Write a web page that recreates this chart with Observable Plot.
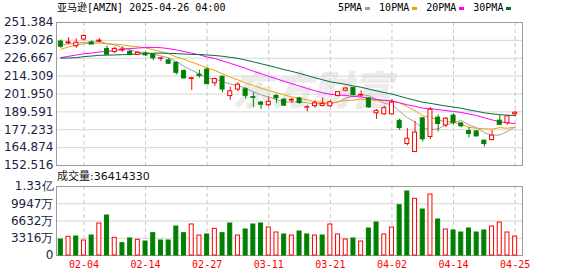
<!DOCTYPE html>
<html><head><meta charset="utf-8">
<script src="https://cdn.jsdelivr.net/npm/d3@7"></script>
<script src="https://cdn.jsdelivr.net/npm/@observablehq/plot@0.6"></script>
<style>
body{margin:0;background:#fff;}
#root{position:relative;width:578px;height:276px;overflow:hidden;background:#fff;}
.abs{position:absolute;white-space:nowrap;}
.mono{font-family:"DejaVu Sans Mono","Noto Sans CJK SC",monospace;font-size:10px;line-height:14px;color:#000;}
svg{position:absolute;left:0;}
</style></head><body><div id="root"></div>
<script>
const titleText = "亚马逊[AMZN] 2025-04-26 04:00";
const volLabel = "成交量:36414330";
const watermark = "东方财富";
const dates = ["01-30","01-31","02-03","02-04","02-05","02-06","02-07","02-10","02-11","02-12","02-13","02-14","02-18","02-19","02-20","02-21","02-24","02-25","02-26","02-27","02-28","03-03","03-04","03-05","03-06","03-07","03-10","03-11","03-12","03-13","03-14","03-17","03-18","03-19","03-20","03-21","03-24","03-25","03-26","03-27","03-28","03-31","04-01","04-02","04-03","04-04","04-07","04-08","04-09","04-10","04-11","04-14","04-15","04-16","04-17","04-21","04-22","04-23","04-24","04-25"];
const open  = [238.2,237.0,235.0,239.6,237.6,238.2,233.0,231.0,232.0,231.2,229.0,229.8,229.2,226.2,225.2,223.5,217.8,212.3,215.3,218.8,209.4,213.8,200.5,205.0,205.2,199.8,196.0,194.2,200.6,198.0,197.4,198.9,192.5,193.6,193.6,193.5,200.6,204.2,206.2,200.9,198.9,188.6,187.9,187.9,183.4,167.4,161.9,185.1,172.2,185.6,180.2,187.0,181.6,176.3,176.1,169.7,170.1,183.5,181.7,187.9];
const high  = [239.3,240.8,240.0,242.9,238.6,240.2,235.0,234.3,234.3,232.0,231.4,231.0,229.7,227.3,226.4,224.2,218.6,213.6,218.4,219.9,212.9,214.5,206.7,209.8,206.2,202.8,196.9,199.8,201.5,198.7,199.0,199.6,194.1,197.4,199.1,197.6,203.7,206.6,206.6,204.2,199.6,191.2,193.6,198.2,184.6,178.0,183.0,185.6,192.5,187.4,185.7,188.3,182.3,178.8,176.6,169.9,176.7,187.4,187.2,190.0];
const low   = [233.6,236.4,233.5,238.8,235.9,237.2,228.6,229.8,230.8,228.4,228.6,227.9,225.0,224.4,222.3,215.1,212.6,204.4,212.9,208.4,207.3,202.8,197.6,203.3,198.5,192.7,191.2,193.2,195.4,193.6,195.5,194.8,189.6,192.3,193.1,192.7,200.0,203.4,200.6,199.6,192.0,184.4,187.2,187.6,176.8,166.1,161.4,168.8,170.5,175.8,178.6,180.5,178.6,171.5,172.4,165.3,169.6,180.4,180.4,186.3];
const close = [234.64,237.68,237.42,242.06,236.17,238.83,229.15,233.14,232.76,228.93,230.37,228.68,226.65,226.63,222.88,216.58,212.71,212.80,214.35,208.74,212.28,205.02,203.80,208.36,200.70,199.25,194.54,196.59,198.89,193.89,197.95,195.74,192.82,195.54,194.95,196.21,203.26,205.71,201.13,201.36,192.72,190.26,192.17,196.01,178.41,171.00,175.26,170.66,191.10,181.22,184.87,182.12,179.59,174.33,172.61,167.32,173.18,180.60,186.54,188.99];
const volume = [30.7e6,35.9e6,36.5e6,28.8e6,38.4e6,61.5e6,76.9e6,34.0e6,23.7e6,32.7e6,30.1e6,26.9e6,42.9e6,28.8e6,28.8e6,55.7e6,42.9e6,59.6e6,38.4e6,40.4e6,51.3e6,42.9e6,61.5e6,38.4e6,50.0e6,59.6e6,61.5e6,53.8e6,44.2e6,40.4e6,38.4e6,46.1e6,40.4e6,38.4e6,38.4e6,59.6e6,40.4e6,30.8e6,32.7e6,26.9e6,51.9e6,63.4e6,40.4e6,53.8e6,96.7e6,123.0e6,108.9e6,88.4e6,117.2e6,69.2e6,50.0e6,48.1e6,44.2e6,51.9e6,44.2e6,48.1e6,55.7e6,63.4e6,44.2e6,36.4e6];
const volDir = ["d","u","d","u","d","u","d","u","d","d","u","d","d","d","d","d","d","u","u","d","u","d","d","u","d","d","d","u","u","d","u","d","d","u","d","u","u","u","d","u","d","d","u","u","d","d","u","d","u","d","u","d","d","d","d","d","u","u","u","u"];
const ma5  = [236.03,236.59,236.99,237.77,237.59,238.43,236.73,235.87,234.01,232.56,230.87,230.78,229.48,228.25,227.04,224.28,221.09,218.32,215.86,213.04,212.18,210.64,208.84,207.64,206.03,203.43,201.33,199.89,197.99,196.63,196.37,196.61,195.86,195.19,195.40,195.05,196.56,199.13,200.25,201.53,200.84,198.24,195.53,194.50,189.91,185.57,182.57,178.27,177.29,177.85,180.62,181.99,183.78,180.43,178.70,175.19,173.41,173.61,176.05,179.33];
const ma10 = [232.79,234.49,235.64,236.77,236.89,237.23,236.66,236.43,235.89,235.08,234.65,233.75,232.67,231.13,229.80,227.58,225.93,223.90,222.06,220.04,218.23,215.86,213.58,211.75,209.53,207.80,205.98,204.36,202.82,201.33,199.90,198.97,197.87,196.59,196.02,195.71,196.58,197.50,197.72,198.47,197.94,197.40,197.33,197.38,195.72,193.20,190.40,186.90,185.90,183.88,183.10,182.28,181.02,178.86,178.28,177.91,177.70,178.69,178.24,179.02];
const ma20 = [227.10,228.02,228.88,229.77,230.20,231.03,231.38,232.09,232.81,233.37,233.72,234.12,234.16,233.95,233.35,232.40,231.30,230.17,228.98,227.56,226.44,224.81,223.13,221.44,219.67,217.69,215.96,214.13,212.44,210.69,209.06,207.42,205.73,204.17,202.78,201.76,201.28,200.93,200.27,199.90,198.92,198.18,197.60,196.98,195.87,194.46,193.49,192.20,191.81,191.17,190.52,189.84,189.18,188.12,187.00,185.56,184.05,182.80,182.07,181.45];
const ma30 = [226.70,226.86,227.07,227.79,228.22,228.68,228.82,228.95,229.14,229.32,229.62,229.93,230.14,230.22,230.07,229.88,229.57,229.36,229.23,228.93,228.56,228.03,227.30,226.55,225.41,224.20,222.86,221.56,220.26,218.82,217.59,216.20,214.71,213.16,211.78,210.36,209.50,208.59,207.53,206.61,205.36,204.08,202.93,201.91,200.42,198.91,197.66,196.25,195.48,194.56,193.65,192.88,192.08,190.94,190.01,188.94,188.23,187.70,187.28,187.12];
const maNames  = ["5PMA","10PMA","20PMA","30PMA"];
const maColors = ["#a0a0a0","#f0a000","#ff00ff","#007038"];
const priceTicks = [152.516,164.874,177.233,189.591,201.950,214.309,226.667,239.026,251.384];
const volTicks = [0,33157500,66315000,99472500,132630000];
const volTickLabels = ["0","3316万","6632万","9947万","1.33亿"];
const dateTicks = ["02-04","02-14","02-27","03-11","03-21","04-02","04-14","04-25"];

const RED = "#ff0000", GREEN = "#008000";
const root = document.getElementById("root");

// watermark (behind)
const wm = document.createElement("div");
wm.className = "abs";
Object.assign(wm.style,{left:"232px",top:"64px",fontFamily:'"Noto Sans CJK SC"',fontSize:"40px",fontWeight:"900",fontStyle:"italic",color:"#ebebeb",lineHeight:"48px"});
wm.textContent = watermark;
root.appendChild(wm);

const candles = dates.map((d,i)=>({date:d,open:open[i],high:high[i],low:low[i],close:close[i]}));
const upC = candles.filter(d=>d.close>=d.open), dnC = candles.filter(d=>d.close<d.open);
const vols = dates.map((d,i)=>({date:d,vol:volume[i],dir:volDir[i]}));
const upV = vols.filter(d=>d.dir==="u"), dnV = vols.filter(d=>d.dir==="d");
const maSeries = [ma5,ma10,ma20,ma30];

const xOpt = {type:"band",domain:dates,range:[56.5,518.5],padding:0};
const svgStyle = {background:"transparent",fontFamily:"DejaVu Sans",overflow:"visible"};

const main = Plot.plot({
  width:578,height:170,marginTop:22,marginBottom:5,marginLeft:56,marginRight:56,
  style:svgStyle,
  x:{...xOpt,axis:null},
  y:{domain:[152.516,251.384],axis:null},
  marks:[
    Plot.ruleY(priceTicks,{stroke:"#d6d6d6"}),
    Plot.ruleX(dateTicks,{stroke:"#c8c8c8",strokeDasharray:"4,3"}),
    Plot.frame({stroke:"#9c9c9c"}),
    Plot.axisY({ticks:priceTicks,tickFormat:d3.format(".3f"),tickSize:0,tickPadding:3,fontSize:12,fill:"#1c2444",label:null}),
    ...maSeries.map((s,j)=>Plot.line(dates,{x:dates,y:s,stroke:maColors[j],strokeWidth:1})),
    Plot.ruleX(upC,{x:"date",y1:"low",y2:"high",stroke:RED}),
    Plot.ruleX(dnC,{x:"date",y1:"low",y2:"high",stroke:GREEN}),
    Plot.barY(upC,{x:"date",y1:"open",y2:"close",fill:"#fff",stroke:RED,insetLeft:1.85,insetRight:1.85}),
    Plot.barY(dnC,{x:"date",y1:"open",y2:"close",fill:GREEN,stroke:GREEN,insetLeft:1.85,insetRight:1.85})
  ]
});
main.style.top = "0px";
root.appendChild(main);

const volChart = Plot.plot({
  width:578,height:106,marginTop:16,marginBottom:21,marginLeft:56,marginRight:56,
  style:svgStyle,
  x:{...xOpt,axis:null},
  y:{domain:[0,132630000],axis:null},
  marks:[
    Plot.ruleY(volTicks,{stroke:"#d6d6d6"}),
    Plot.ruleX(dateTicks,{stroke:"#c8c8c8",strokeDasharray:"4,3"}),
    Plot.frame({stroke:"#9c9c9c"}),
    Plot.axisY({ticks:volTicks,tickFormat:d=>volTickLabels[volTicks.indexOf(d)],tickSize:0,tickPadding:3,fontSize:12,fill:"#1c2444",label:null}),
    Plot.axisX({ticks:dateTicks,tickSize:0,tickPadding:5,fontSize:10,fontFamily:"DejaVu Sans Mono",fill:RED,label:null}),
    Plot.barY(upV,{x:"date",y:"vol",fill:"#fff",stroke:RED,insetLeft:1.85,insetRight:1.85}),
    Plot.barY(dnV,{x:"date",y:"vol",fill:GREEN,stroke:GREEN,insetLeft:1.85,insetRight:1.85})
  ]
});
volChart.style.top = "170px";
root.appendChild(volChart);

// title
const t = document.createElement("div");
t.className = "abs mono";
Object.assign(t.style,{left:"57px",top:"1px"});
t.textContent = titleText;
root.appendChild(t);

// legend
const lg = document.createElement("div");
lg.className = "abs mono";
Object.assign(lg.style,{left:"338px",top:"1px",display:"flex",alignItems:"center"});
maNames.forEach((n,j)=>{
  const s = document.createElement("span"); s.textContent = n; lg.appendChild(s);
  const b = document.createElement("span");
  Object.assign(b.style,{display:"inline-block",width:"5px",height:"3px",background:maColors[j],marginLeft:"3px",marginRight:j<3?"9px":"0"});
  lg.appendChild(b);
});
root.appendChild(lg);

// volume label
const vl = document.createElement("div");
vl.className = "abs";
Object.assign(vl.style,{left:"57px",top:"170px",fontFamily:'"DejaVu Sans","Noto Sans CJK SC"',fontSize:"11px",lineHeight:"14px",color:"#111"});
vl.textContent = volLabel;
root.appendChild(vl);
</script></body></html>
